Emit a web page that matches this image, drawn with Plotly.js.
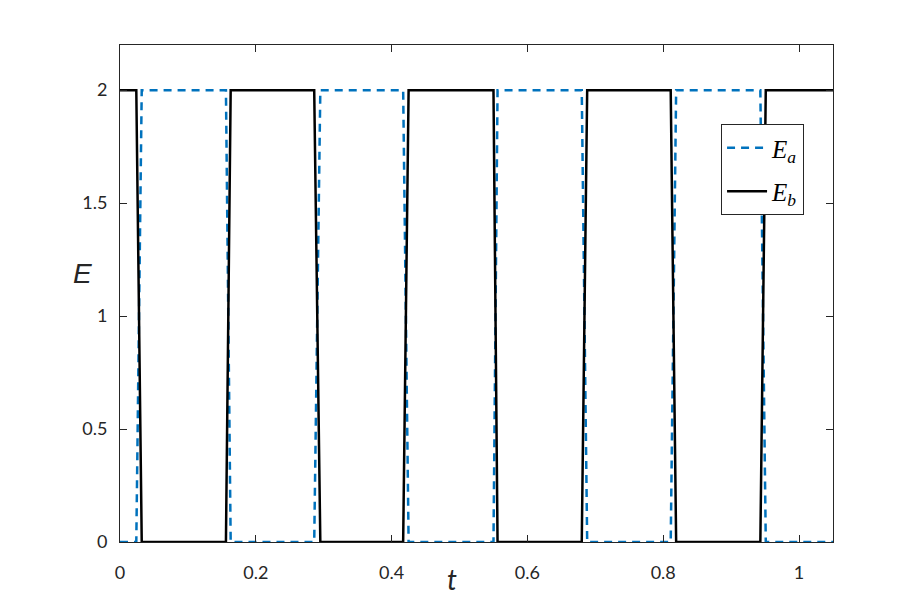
<!DOCTYPE html>
<html><head><meta charset="utf-8">
<script src="https://cdn.plot.ly/plotly-3.0.1.min.js"></script>
<style>html,body{margin:0;padding:0;background:#fff}</style>
</head><body>
<div id="chart" style="width:921px;height:609px"></div>
<script>
var tVals = [0, 0.024, 0.032, 0.156, 0.163, 0.286, 0.295, 0.417, 0.425, 0.550, 0.556, 0.680, 0.688, 0.811, 0.819, 0.943, 0.951, 1.05];
var EaVals = [0, 0, 2, 2, 0, 0, 2, 2, 0, 0, 2, 2, 0, 0, 2, 2, 0, 0];
var EbVals = [2, 2, 0, 0, 2, 2, 0, 0, 2, 2, 0, 0, 2, 2, 0, 0, 2, 2];
var xTicks = [0, 0.2, 0.4, 0.6, 0.8, 1];
var xTickText = ['0', '0.2', '0.4', '0.6', '0.8', '1'];
var yTicks = [0, 0.5, 1, 1.5, 2];
var yTickText = ['0', '0.5', '1', '1.5', '2'];

var traces = [
  {x: tVals, y: EaVals, mode: 'lines', name: '<i>E<sub>a</sub></i>', legendgroup: 'a',
   line: {color: '#0072BD', width: 2.5, dash: '8px,6px'}},
  {x: tVals, y: EbVals, mode: 'lines', name: '<i>E<sub>b</sub></i>', legendgroup: 'b',
   line: {color: '#000000', width: 2.5}}
];
var axisCommon = {
  showgrid: false, zeroline: false, showline: true, linecolor: '#262626', linewidth: 1,
  mirror: 'ticks', ticks: 'inside', ticklen: 7, tickcolor: '#262626',
  tickfont: {family: 'Lato, sans-serif', size: 18, color: '#262626'}
};
var layout = {
  width: 921, height: 609,
  margin: {l: 120, r: 88, t: 45, b: 67},
  paper_bgcolor: '#ffffff', plot_bgcolor: '#ffffff',
  showlegend: true,
  xaxis: Object.assign({}, axisCommon, {range: [0, 1.05], tickvals: xTicks, ticktext: xTickText, ticklabelstandoff: 14}),
  yaxis: Object.assign({}, axisCommon, {range: [0, 2.2], tickvals: yTicks, ticktext: yTickText, ticklabelstandoff: 8}),
  legend: {x: 0.843, y: 0.841, xanchor: 'left', yanchor: 'top', bgcolor: '#ffffff',
    bordercolor: '#262626', borderwidth: 1, itemwidth: 40,
    font: {family: 'Liberation Serif, serif', size: 25, color: '#000'},
    tracegroupgap: 8},
  annotations: [
    {text: '<i>t</i>', xref: 'paper', yref: 'paper', x: 0.465, y: -0.075, xanchor: 'center', yanchor: 'middle',
     showarrow: false, font: {family: 'Lato, sans-serif', size: 28, color: '#262626'}},
    {text: '<i>E</i>', xref: 'paper', yref: 'paper', x: -0.053, y: 0.54, xanchor: 'center', yanchor: 'middle',
     showarrow: false, font: {family: 'Liberation Sans, sans-serif', size: 28, color: '#262626'}}
  ]
};
Plotly.newPlot('chart', traces, layout, {displayModeBar: false, staticPlot: true});
</script>
</body></html>
